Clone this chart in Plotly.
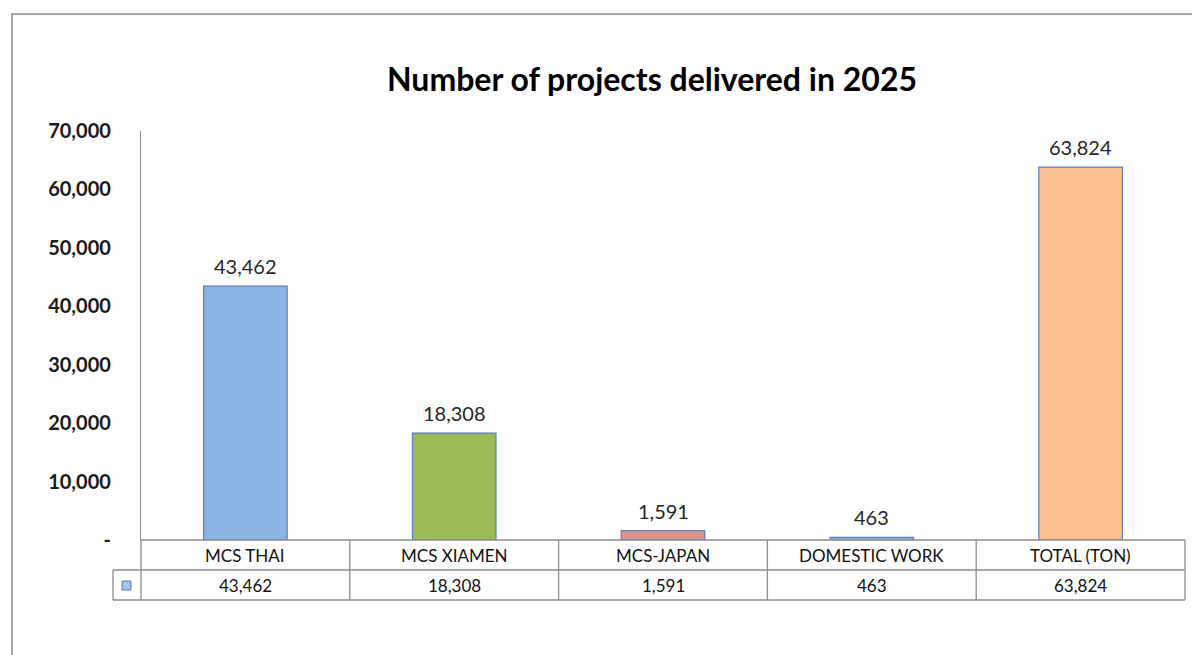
import plotly.graph_objects as go

categories = ["MCS THAI", "MCS XIAMEN", "MCS-JAPAN", "DOMESTIC WORK", "TOTAL (TON)"]
values = [43462, 18308, 1591, 463, 63824]
bar_colors = ["#8DB3E2", "#9BBB59", "#D99694", "#8DB3E2", "#FAC090"]
tick_vals = [0, 10000, 20000, 30000, 40000, 50000, 60000, 70000]
tick_text = ["-", "10,000", "20,000", "30,000", "40,000", "50,000", "60,000", "70,000"]
title_text = "Number of projects delivered in 2025"

W, H = 1192, 655
FONT = "Lato"


def px(x):
    return x / W


def py(y):
    return (H - y) / H


plot_left, plot_right = 141, 1185
plot_top, plot_bottom = 131, 540
row1, row2 = 570, 600
key_left = 113

fig = go.Figure()
fig.add_trace(go.Bar(
    x=categories, y=values,
    marker=dict(color=bar_colors, line=dict(color="#5B7FB8", width=1.2)),
    width=0.4, hoverinfo="skip",
))

annotations = []
for c, v in zip(categories, values):
    annotations.append(dict(x=c, y=v, xref="x", yref="y", text=f"{v:,}",
                            showarrow=False, yanchor="bottom", yshift=6,
                            font=dict(family=FONT, size=20, color="#262626")))
for c, v in zip(categories, values):
    annotations.append(dict(x=c, y=py((plot_bottom + row1) / 2), xref="x", yref="paper",
                            text=c, showarrow=False, yanchor="middle",
                            font=dict(family=FONT, size=17, color="#111111")))
    annotations.append(dict(x=c, y=py((row1 + row2) / 2), xref="x", yref="paper",
                            text=f"{v:,}", showarrow=False, yanchor="middle",
                            font=dict(family=FONT, size=17, color="#111111")))

shapes = []
line_col = "#8C8C8C"
shapes.append(dict(type="rect", xref="paper", yref="paper", x0=px(12), x1=1.05,
                   y0=-0.05, y1=py(14), line=dict(color="#A6A6A6", width=2)))
shapes.append(dict(type="line", xref="paper", yref="paper", x0=px(plot_left), x1=px(plot_right),
                   y0=py(plot_bottom), y1=py(plot_bottom), line=dict(color=line_col, width=1.3)))
for yy in (row1, row2):
    shapes.append(dict(type="line", xref="paper", yref="paper", x0=px(key_left), x1=px(plot_right),
                       y0=py(yy), y1=py(yy), line=dict(color=line_col, width=1.3)))
n = len(categories)
for i in range(n + 1):
    xx = plot_left + (plot_right - plot_left) * i / n
    shapes.append(dict(type="line", xref="paper", yref="paper", x0=px(xx), x1=px(xx),
                       y0=py(plot_bottom), y1=py(row2), line=dict(color=line_col, width=1.3)))
shapes.append(dict(type="line", xref="paper", yref="paper", x0=px(key_left), x1=px(key_left),
                   y0=py(row1), y1=py(row2), line=dict(color=line_col, width=1.3)))
shapes.append(dict(type="rect", xref="paper", yref="paper", x0=px(122), x1=px(131),
                   y0=py(590), y1=py(581), fillcolor="#A9C4EB", line=dict(color="#4F81BD", width=1)))

fig.update_layout(
    width=W, height=H,
    margin=dict(l=0, r=0, t=0, b=0, autoexpand=False),
    paper_bgcolor="white", plot_bgcolor="white",
    showlegend=False,
    title=dict(text=f"<b>{title_text}</b>", x=px(652), xanchor="center",
               y=py(80), yanchor="middle", automargin=False,
               font=dict(family=FONT, size=32, color="#000000")),
    xaxis=dict(domain=[px(plot_left), px(plot_right)], showticklabels=False, automargin=False,
               showline=False, showgrid=False, zeroline=False, ticks=""),
    yaxis=dict(domain=[py(plot_bottom), py(plot_top)], range=[0, 70000], automargin=False,
               tickvals=tick_vals, ticktext=tick_text, showgrid=False, zeroline=False,
               showline=True, linecolor="#8C8C8C", linewidth=1.3,
               ticks="", ticklabelstandoff=25,
               tickfont=dict(family=FONT, size=20, color="#1a1a1a", weight="bold")),
    annotations=annotations,
    shapes=shapes,
    bargap=0.6,
)

fig.write_html("out.html", config={"displayModeBar": False},
               post_script="document.body.style.margin='0';document.body.style.overflow='hidden';")
